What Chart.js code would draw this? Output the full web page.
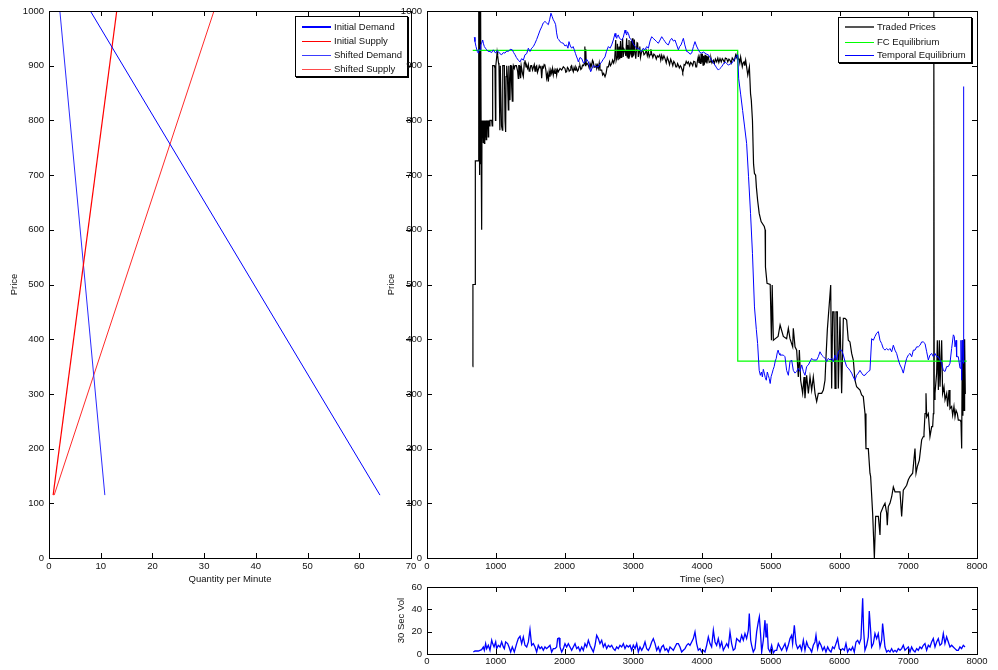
<!DOCTYPE html>
<html>
<head>
<meta charset="utf-8">
<title>Supply, demand and traded prices</title>
<script src="https://cdn.jsdelivr.net/npm/chart.js@4.4.1/dist/chart.umd.min.js"></script>
<style>
  html, body { margin: 0; padding: 0; background: #fff; }
  #wrap { position: relative; width: 998px; height: 670px; overflow: hidden; background: #fff; }
  canvas { position: absolute; }
  #cSD { left: 0; top: 0; z-index: 1; }
  #cPrice { left: 380px; top: 0; z-index: 3; }
  #cVol { left: 380px; top: 570px; z-index: 3; }
  .legend { position: absolute; background: #fff; border: 1px solid #000; box-shadow: 1px 1px 0 #000;
            font-family: 'Liberation Sans', Arial, Helvetica, sans-serif; font-size: 9.5px; color: #111; }
  #legSD { left: 295px; top: 16px; width: 111px; height: 59px; z-index: 2; }
  #legPrice { left: 838px; top: 17px; width: 132px; height: 44px; z-index: 4; }
  .legend .row { position: absolute; left: 0; right: 0; height: 12px; }
  .legend .swatch { position: absolute; left: 6px; width: 29px; height: 0; }
  .legend .label { position: absolute; left: 38px; top: 0; line-height: 12px; white-space: nowrap; }
</style>
</head>
<body>
<div id="wrap">
  <canvas id="cSD" width="420" height="600"></canvas>
  <div class="legend" id="legSD"></div>
  <canvas id="cPrice" width="618" height="600"></canvas>
  <canvas id="cVol" width="618" height="100"></canvas>
  <div class="legend" id="legPrice"></div>
</div>
<script>
// ---------- supply and demand schedules (quantity per minute, price) ----------
const initialDemandQty   = [8.0, 64.0];
const initialDemandPrice = [1000, 115];
const initialSupplyQty   = [0.8, 13.1];
const initialSupplyPrice = [115, 1000];
const shiftedDemandQty   = [2.1, 10.8];
const shiftedDemandPrice = [1000, 115];
const shiftedSupplyQty   = [1.0, 31.9];
const shiftedSupplyPrice = [115, 1000];

// ---------- tick values ----------
const quantityTicks = [0, 10, 20, 30, 40, 50, 60, 70];
const priceTicks    = [0, 100, 200, 300, 400, 500, 600, 700, 800, 900, 1000];
const timeTicks     = [0, 1000, 2000, 3000, 4000, 5000, 6000, 7000, 8000];
const volTicks      = [0, 20, 40, 60];

// ---------- legend labels ----------
const sdLegendLabels    = ['Initial Demand', 'Initial Supply', 'Shifted Demand', 'Shifted Supply'];
const priceLegendLabels = ['Traded Prices', 'FC Equilibrium', 'Temporal Equilibrium'];

// ---------- free-competition equilibrium: [time (sec), price] ----------
const fcEquilibrium = [[665, 928], [4520, 928], [4520, 360], [7850, 360]];

// ---------- traded prices: [time (sec), price] ----------
const tradedPrices = [
  [664,350],[668,500],[700,500],[703,726],[745,726],[750,1000],[755,740],[759,1000],[763,700],[767,1000],
  [771,760],[775,1000],[780,720],[785,1000],[790,700],[795,600],[800,800],[806,770],[812,800],[819,760],
  [826,800],[834,758],[840,800],[846,770],[853,800],[860,765],[868,800],[875,785],[882,800],[890,770],
  [897,800],[907,790],[916,800],[941,800],[948,790],[955,900],[965,900],[979,900],[989,895],[996,800],
  [1001,900],[1013,915],[1020,925],[1028,918],[1040,905],[1047,900],[1060,782],[1066,900],[1076,900],[1084,790],
  [1096,782],[1102,900],[1110,900],[1125,900],[1135,800],[1144,779],[1150,880],[1159,900],[1170,880],[1183,819],
  [1190,900],[1200,850],[1207,837],[1215,900],[1222,900],[1232,860],[1241,835],[1250,890],[1256,900],[1270,895],
  [1280,900],[1300,900],[1318,890],[1328,877],[1335,900],[1343,900],[1352,885],[1362,877],[1370,900],[1380,900],
  [1390,885],[1401,880],[1415,905],[1425,910],[1440,898],[1450,900],[1462,895],[1474,902],[1486,890],[1498,893],
  [1510,900],[1522,900],[1535,892],[1547,897],[1560,902],[1571,890],[1583,898],[1595,900],[1607,888],[1619,893],
  [1632,900],[1644,896],[1656,900],[1668,877],[1680,898],[1692,896],[1704,902],[1716,900],[1728,893],[1740,877],
  [1752,885],[1765,871],[1777,890],[1789,880],[1801,892],[1813,886],[1825,895],[1837,883],[1850,892],[1862,886],
  [1874,895],[1886,883],[1898,893],[1910,889],[1935,895],[1959,892],[1983,898],[2007,895],[2019,888],[2031,889],
  [2043,897],[2056,895],[2068,890],[2080,892],[2092,898],[2104,900],[2116,893],[2128,889],[2140,897],[2153,892],
  [2165,898],[2177,895],[2189,890],[2201,892],[2213,899],[2225,900],[2237,893],[2250,895],[2262,901],[2274,900],
  [2288,904],[2296,935],[2304,900],[2310,930],[2316,902],[2330,904],[2347,901],[2359,896],[2371,904],[2383,898],
  [2395,900],[2407,910],[2419,907],[2431,897],[2444,898],[2458,904],[2468,895],[2480,901],[2492,895],[2505,905],
  [2516,892],[2541,892],[2555,883],[2570,886],[2589,880],[2605,886],[2620,898],[2638,898],[2655,907],[2668,900],
  [2686,904],[2700,910],[2715,905],[2730,912],[2745,947],[2752,910],[2764,916],[2770,940],[2780,910],[2793,935],
  [2803,912],[2815,945],[2822,915],[2832,922],[2845,950],[2853,916],[2866,930],[2880,926],[2892,918],[2904,950],
  [2912,916],[2919,938],[2928,914],[2938,947],[2948,918],[2958,922],[2968,945],[2978,915],[2987,950],[2996,918],
  [3006,920],[3016,948],[3026,924],[3036,913],[3045,926],[3055,942],[3064,941],[3074,916],[3084,926],[3095,935],
  [3105,915],[3123,926],[3140,929],[3156,920],[3171,922],[3190,928],[3205,918],[3220,926],[3232,916],[3244,920],
  [3256,930],[3268,922],[3285,915],[3300,921],[3317,919],[3335,912],[3350,918],[3365,916],[3385,920],[3400,910],
  [3414,919],[3430,912],[3446,918],[3462,913],[3480,905],[3495,915],[3511,910],[3528,902],[3545,912],[3559,907],
  [3575,900],[3590,908],[3607,904],[3620,898],[3632,898],[3645,904],[3656,901],[3670,896],[3685,900],[3695,898],
  [3710,893],[3720,888],[3729,892],[3740,902],[3753,901],[3770,908],[3785,904],[3801,907],[3820,900],[3835,906],
  [3850,904],[3865,900],[3880,908],[3898,907],[3910,898],[3922,898],[3935,910],[3945,916],[3956,905],[3965,914],
  [3975,904],[3985,922],[3995,906],[4005,922],[4015,901],[4024,918],[4035,902],[4045,920],[4053,906],[4063,918],
  [4072,904],[4082,915],[4092,916],[4105,906],[4117,907],[4130,914],[4145,905],[4165,910],[4180,904],[4195,912],
  [4214,907],[4230,914],[4245,906],[4262,913],[4280,907],[4295,913],[4311,910],[4325,906],[4340,914],[4359,913],
  [4375,907],[4392,912],[4407,910],[4425,905],[4440,914],[4456,911],[4470,909],[4490,920],[4505,915],[4514,922],
  [4528,912],[4538,913],[4550,905],[4562,916],[4575,906],[4586,898],[4598,905],[4611,907],[4622,900],[4635,910],
  [4649,898],[4666,883],[4689,898],[4706,849],[4717,837],[4734,800],[4750,720],[4763,703],[4780,700],[4791,678],
  [4809,654],[4832,630],[4860,615],[4906,606],[4918,600],[4923,532],[4946,502],[4992,500],[5010,398],[5021,499],
  [5038,398],[5067,401],[5107,405],[5136,426],[5183,405],[5231,401],[5256,420],[5280,401],[5319,386],[5328,420],
  [5353,386],[5377,380],[5401,331],[5416,380],[5435,325],[5464,301],[5484,331],[5498,292],[5522,334],[5547,301],
  [5571,331],[5595,307],[5619,331],[5644,301],[5668,286],[5692,301],[5741,301],[5765,307],[5789,325],[5804,368],
  [5823,417],[5872,499],[5886,310],[5901,450],[5920,450],[5935,310],[5949,450],[5969,450],[5983,310],[6007,441],
  [6031,301],[6056,438],[6080,438],[6104,435],[6128,398],[6152,395],[6177,374],[6201,362],[6225,325],[6249,313],
  [6298,307],[6322,298],[6346,295],[6371,264],[6385,200],[6419,200],[6443,155],[6453,149],[6482,82],[6507,0],
  [6526,76],[6565,76],[6589,42],[6598,82],[6637,94],[6662,100],[6686,82],[6695,60],[6710,94],[6734,100],
  [6759,112],[6783,130],[6807,121],[6880,121],[6904,76],[6928,124],[6977,133],[7001,143],[7025,149],[7064,155],
  [7098,200],[7113,155],[7132,167],[7161,179],[7195,216],[7219,222],[7229,228],[7244,264],[7258,301],[7268,258],
  [7292,264],[7316,222],[7341,240],[7355,240],[7365,264],[7372,1000],[7378,290],[7389,301],[7413,338],[7423,398],
  [7438,307],[7452,398],[7462,313],[7486,398],[7500,301],[7520,313],[7535,289],[7559,301],[7573,277],[7593,307],
  [7607,273],[7631,277],[7646,261],[7665,277],[7680,258],[7695,270],[7714,264],[7728,252],[7753,252],[7767,249],
  [7777,200],[7786,398],[7795,260],[7801,398],[7811,270],[7820,400],[7830,300]
];

// ---------- temporal equilibrium: [time (sec), price] ----------
const temporalEquilibrium = [
  [688,952],[698,944],[713,935],[732,926],[747,923],[760,930],[771,929],[782,938],[795,941],[810,947],
  [822,940],[834,935],[850,932],[868,929],[890,926],[916,926],[940,924],[965,929],[985,925],[999,923],
  [1020,928],[1037,926],[1060,922],[1086,920],[1110,924],[1134,923],[1160,927],[1183,926],[1210,930],[1241,929],
  [1260,924],[1280,920],[1300,915],[1328,910],[1353,907],[1377,913],[1401,910],[1425,920],[1450,922],[1474,932],
  [1498,926],[1522,932],[1547,935],[1571,941],[1595,948],[1619,956],[1645,965],[1668,971],[1690,978],[1716,981],
  [1740,978],[1765,975],[1785,985],[1803,996],[1820,990],[1837,984],[1855,980],[1871,975],[1885,960],[1900,950],
  [1915,948],[1934,944],[1958,942],[1983,941],[2007,936],[2031,938],[2050,932],[2065,944],[2085,936],[2104,932],
  [2125,935],[2143,929],[2160,922],[2177,916],[2190,912],[2201,907],[2225,915],[2250,913],[2275,905],[2298,907],
  [2320,912],[2347,907],[2365,898],[2380,889],[2400,895],[2419,901],[2445,898],[2468,898],[2492,898],[2515,903],
  [2541,907],[2565,912],[2589,916],[2610,926],[2638,935],[2662,932],[2686,938],[2710,947],[2735,959],[2747,953],
  [2759,950],[2770,955],[2783,956],[2800,950],[2832,947],[2855,952],[2880,965],[2892,960],[2904,956],[2915,962],
  [2929,959],[2950,950],[2977,947],[3000,940],[3026,935],[3050,932],[3074,932],[3100,928],[3123,926],[3145,932],
  [3171,929],[3195,935],[3220,932],[3244,945],[3268,953],[3290,950],[3317,947],[3340,944],[3365,941],[3390,947],
  [3414,953],[3440,948],[3462,944],[3485,940],[3511,938],[3535,946],[3559,950],[3585,945],[3607,947],[3632,938],
  [3656,929],[3675,935],[3695,938],[3712,944],[3729,950],[3750,938],[3777,926],[3800,925],[3825,921],[3850,923],
  [3875,935],[3898,944],[3920,936],[3947,929],[3970,924],[3995,923],[4020,925],[4044,923],[4068,921],[4092,920],
  [4115,915],[4141,910],[4165,905],[4189,901],[4213,896],[4238,892],[4262,895],[4286,898],[4310,903],[4335,907],
  [4360,904],[4383,901],[4407,903],[4432,904],[4456,909],[4480,913],[4500,917],[4519,920],[4534,876],[4562,848],
  [4591,818],[4620,788],[4649,758],[4677,697],[4706,630],[4734,557],[4763,459],[4790,418],[4809,392],[4832,343],
  [4849,334],[4865,340],[4878,331],[4892,345],[4906,338],[4920,330],[4935,325],[4950,340],[4964,334],[4978,328],
  [4992,319],[5006,332],[5021,338],[5036,345],[5050,350],[5065,360],[5080,365],[5094,375],[5107,380],[5120,374],
  [5134,371],[5183,371],[5207,368],[5231,343],[5256,334],[5280,359],[5304,362],[5328,343],[5353,338],[5377,341],
  [5401,347],[5425,341],[5450,353],[5474,341],[5498,334],[5522,350],[5547,353],[5571,359],[5595,365],[5619,362],
  [5668,362],[5692,368],[5716,377],[5741,371],[5765,368],[5789,365],[5813,359],[5838,365],[5862,362],[5886,365],
  [5910,359],[5935,371],[5959,362],[5983,377],[6007,380],[6031,380],[6056,371],[6080,359],[6104,350],[6128,347],
  [6152,343],[6177,338],[6201,331],[6225,325],[6249,334],[6274,338],[6298,343],[6322,338],[6346,334],[6371,334],
  [6395,338],[6419,341],[6443,343],[6468,401],[6492,398],[6516,405],[6540,411],[6565,414],[6589,398],[6613,392],
  [6637,383],[6662,380],[6686,383],[6710,380],[6734,383],[6759,377],[6783,389],[6807,380],[6831,374],[6856,362],
  [6880,353],[6904,347],[6928,338],[6953,353],[6977,365],[7001,371],[7025,374],[7050,368],[7074,380],[7098,380],
  [7122,386],[7147,386],[7171,389],[7195,395],[7219,395],[7244,392],[7268,377],[7292,362],[7316,371],[7341,374],
  [7365,368],[7389,374],[7413,368],[7438,368],[7462,362],[7486,356],[7510,343],[7535,341],[7559,350],[7583,350],
  [7607,356],[7631,383],[7656,408],[7670,405],[7680,386],[7695,398],[7704,368],[7728,368],[7753,347],[7767,398],
  [7777,325],[7791,398],[7804,356],[7806,862]
];

// ---------- 30 second traded volume: [time (sec), volume] ----------
const volume30s = [
  [674,1.8],[698,2.7],[722,2.7],[747,2.7],[771,3.3],[795,3.9],[819,6.3],[834,3.3],[853,9.3],[868,4.8],
  [892,7.8],[916,3.3],[941,12.3],[955,9.3],[975,6.3],[999,10.8],[1013,4.8],[1037,7.8],[1062,6.3],[1086,10.8],
  [1110,6.3],[1125,4.8],[1144,10.8],[1173,9.3],[1193,6.3],[1217,1.8],[1241,6.3],[1270,1.8],[1304,9.3],[1328,13.8],
  [1353,15.9],[1377,9.3],[1401,15.3],[1425,7.8],[1450,6.3],[1474,10.8],[1498,21.9],[1522,7.8],[1547,9.3],[1571,6.3],
  [1595,1.8],[1619,7.8],[1644,4.8],[1668,6.3],[1692,3.3],[1716,6.3],[1740,4.8],[1765,6.3],[1789,7.8],[1813,1.8],
  [1837,4.8],[1862,4.8],[1886,6.3],[1900,13.8],[1920,14.4],[1934,6.3],[1959,1.8],[1983,4.8],[2007,9.3],[2031,6.3],
  [2056,9.3],[2080,6.3],[2104,3.3],[2128,6.3],[2153,9.3],[2177,4.8],[2201,6.3],[2225,2.7],[2250,6.3],[2274,3.3],
  [2298,9.3],[2322,6.3],[2347,12.3],[2371,7.8],[2395,4.8],[2419,1.8],[2444,7.8],[2468,16.8],[2492,13.8],[2516,9.3],
  [2541,12.3],[2565,6.3],[2589,9.3],[2613,4.8],[2638,7.8],[2662,6.3],[2686,7.8],[2710,4.8],[2735,3.3],[2759,6.3],
  [2783,4.8],[2807,7.8],[2832,6.3],[2856,9.3],[2880,4.8],[2904,7.8],[2929,6.3],[2953,7.8],[2977,3.3],[3001,7.8],
  [3026,4.8],[3050,9.3],[3074,1.8],[3098,6.3],[3123,3.3],[3147,6.3],[3171,10.8],[3195,4.8],[3220,3.3],[3244,6.3],
  [3268,10.8],[3292,13.8],[3317,9.3],[3341,3.3],[3365,6.3],[3389,1.8],[3414,6.3],[3438,7.8],[3462,3.3],[3486,4.8],
  [3510,1.8],[3535,6.3],[3559,4.8],[3583,3.3],[3607,6.3],[3632,9.3],[3656,9.3],[3680,6.3],[3704,1.8],[3728,3.3],
  [3753,4.8],[3777,7.8],[3801,9.3],[3825,7.8],[3850,10.8],[3874,13.8],[3898,19.8],[3922,9.3],[3946,3.3],[3971,4.8],
  [3995,1.8],[4019,3.3],[4043,1.8],[4068,7.8],[4092,15.3],[4116,9.3],[4140,6.3],[4165,21.3],[4189,10.8],[4213,7.8],
  [4237,13.8],[4262,6.3],[4286,10.8],[4310,3.3],[4334,6.3],[4359,9.3],[4383,6.3],[4407,19.8],[4431,9.3],[4455,3.3],
  [4480,4.8],[4504,13.8],[4528,12.3],[4552,10.8],[4577,16.8],[4601,12.3],[4625,18.3],[4649,13.8],[4674,21.3],[4688,36.3],
  [4708,12.3],[4722,7.8],[4746,1.8],[4771,4.8],[4795,19.8],[4819,28.8],[4834,33.3],[4853,16.8],[4868,1.8],[4892,12.3],
  [4916,30.3],[4931,15.3],[4945,27.3],[4964,4.8],[4989,1.8],[5013,7.8],[5037,0.9],[5062,3.3],[5086,3.3],[5110,9.3],
  [5134,6.3],[5158,3.3],[5183,6.3],[5207,9.3],[5231,3.3],[5255,7.8],[5280,13.8],[5304,16.8],[5318,9.3],[5343,25.8],
  [5367,9.3],[5391,4.8],[5425,7.8],[5449,3.3],[5474,12.3],[5498,3.3],[5522,10.8],[5546,6.3],[5571,4.8],[5595,1.8],
  [5619,7.8],[5643,10.8],[5658,16.8],[5682,4.8],[5706,10.8],[5731,7.8],[5755,3.3],[5779,6.3],[5803,1.8],[5828,6.3],
  [5852,3.3],[5876,1.8],[5900,6.3],[5924,4.8],[5949,9.3],[5973,13.8],[5997,4.8],[6021,3.3],[6046,4.8],[6070,3.3],
  [6094,9.3],[6118,1.8],[6143,4.8],[6167,3.3],[6191,6.3],[6215,1.8],[6240,10.8],[6264,12.3],[6288,9.3],[6312,13.8],
  [6337,50],[6351,21.3],[6370,3.3],[6395,7.8],[6419,15.3],[6433,38.5],[6453,21.3],[6467,6.3],[6492,9.3],[6516,18.3],
  [6540,13.8],[6564,18.3],[6589,6.3],[6613,12.3],[6627,27.3],[6647,15.3],[6661,6.3],[6686,1.8],[6710,3.3],[6734,1.8],
  [6758,4.8],[6782,1.8],[6807,3.3],[6831,1.8],[6855,4.8],[6880,3.3],[6904,4.8],[6928,7.8],[6952,3.3],[6976,4.8],
  [7001,6.3],[7025,1.8],[7049,6.3],[7073,3.3],[7098,1.8],[7122,4.8],[7146,3.3],[7170,6.3],[7195,4.8],[7219,7.8],
  [7243,9.3],[7267,3.3],[7292,7.8],[7316,6.3],[7340,10.8],[7364,13.8],[7389,6.3],[7413,10.8],[7437,13.8],[7461,7.8],
  [7486,9.3],[7510,18.3],[7534,9.3],[7558,15.3],[7583,10.8],[7607,6.3],[7631,7.8],[7655,6.3],[7679,4.8],[7704,3.3],
  [7728,3.3],[7752,6.3],[7776,4.8],[7801,7.8],[7825,6.3]
];

// ---------- helpers ----------
const FONT = "'Liberation Sans', Arial, Helvetica, sans-serif";
Chart.defaults.font.family = FONT;
Chart.defaults.font.size = 9.5;
Chart.defaults.color = '#111';

const BLUE = '#0000ff', RED = '#ff0000', GREEN = '#00ff00', BLACK = '#000000';

function zipPoints(xs, ys) { return xs.map((x, i) => ({ x: x, y: ys[i] })); }
function pairPoints(rows) { return rows.map(r => ({ x: r[0], y: r[1] })); }
function fixedTicks(values) { return scale => { scale.ticks = values.map(v => ({ value: v })); }; }
const plainLabel = v => String(v);

// Box around the plot area with short inward tick marks on all four sides
const boxedAxes = {
  id: 'boxedAxes',
  afterDatasetsDraw(chart, args, opts) {
    const { ctx, chartArea: a, scales } = chart;
    const len = opts.tickLength || 5;
    const snap = v => Math.round(v) + 0.5;
    ctx.save();
    ctx.strokeStyle = '#000';
    ctx.lineWidth = 1;
    ctx.beginPath();
    scales.x.ticks.forEach(t => {
      const px = snap(scales.x.getPixelForValue(t.value));
      ctx.moveTo(px, a.bottom); ctx.lineTo(px, a.bottom - len);
      ctx.moveTo(px, a.top);    ctx.lineTo(px, a.top + len);
    });
    scales.y.ticks.forEach(t => {
      const py = snap(scales.y.getPixelForValue(t.value));
      ctx.moveTo(a.left, py);  ctx.lineTo(a.left + len, py);
      ctx.moveTo(a.right, py); ctx.lineTo(a.right - len, py);
    });
    ctx.stroke();
    ctx.strokeRect(snap(a.left), snap(a.top), Math.round(a.right - a.left), Math.round(a.bottom - a.top));
    ctx.restore();
  }
};

function lineSet(label, points, color, width, order) {
  return {
    label: label, data: points, borderColor: color, backgroundColor: color,
    borderWidth: width, pointRadius: 0, tension: 0, fill: false, order: order || 0
  };
}

function xAxis(min, max, ticks, titleText, height, tickPad, titlePadBottom) {
  return {
    type: 'linear', min: min, max: max,
    afterBuildTicks: fixedTicks(ticks),
    grid: { display: false, drawTicks: false },
    border: { display: false },
    ticks: { padding: tickPad, maxRotation: 0, autoSkip: false, callback: plainLabel, color: '#111' },
    title: { display: !!titleText, text: titleText || '', color: '#111',
             padding: { top: 0, bottom: titlePadBottom } },
    afterFit: s => { s.height = height; }
  };
}

function yAxis(min, max, ticks, titleText, width, tickPad, titlePadTop) {
  return {
    type: 'linear', min: min, max: max,
    afterBuildTicks: fixedTicks(ticks),
    grid: { display: false, drawTicks: false },
    border: { display: false },
    ticks: { padding: tickPad, autoSkip: false, callback: plainLabel, color: '#111' },
    title: { display: true, text: titleText, color: '#111',
             padding: { top: titlePadTop, bottom: 0 } },
    afterFit: s => { s.width = width; }
  };
}

function baseOptions(padding, xs, ys) {
  return {
    responsive: false, animation: false, devicePixelRatio: 1,
    layout: { padding: padding },
    plugins: { legend: { display: false }, tooltip: { enabled: false }, boxedAxes: { tickLength: 5 } },
    scales: { x: xs, y: ys }
  };
}

// ---------- left: supply and demand ----------
new Chart(document.getElementById('cSD'), {
  type: 'line',
  data: {
    datasets: [
      lineSet(sdLegendLabels[0], zipPoints(initialDemandQty, initialDemandPrice), BLUE, 1),
      lineSet(sdLegendLabels[1], zipPoints(initialSupplyQty, initialSupplyPrice), RED, 1.2),
      lineSet(sdLegendLabels[2], zipPoints(shiftedDemandQty, shiftedDemandPrice), '#2a2aff', 1),
      lineSet(sdLegendLabels[3], zipPoints(shiftedSupplyQty, shiftedSupplyPrice), '#ff2a2a', 1)
    ]
  },
  options: baseOptions({ left: 0, top: 11, right: 9, bottom: 0 },
    xAxis(0, 70, quantityTicks, 'Quantity per Minute', 42, 3, 15),
    yAxis(0, 1000, priceTicks, 'Price', 49, 5, 9)),
  plugins: [boxedAxes]
});

// ---------- right: traded prices and equilibria ----------
new Chart(document.getElementById('cPrice'), {
  type: 'line',
  data: {
    datasets: [
      lineSet(priceLegendLabels[0], pairPoints(tradedPrices), BLACK, 1.2, 3),
      lineSet(priceLegendLabels[1], pairPoints(fcEquilibrium), GREEN, 1.2, 2),
      lineSet(priceLegendLabels[2], pairPoints(temporalEquilibrium), BLUE, 1, 1)
    ]
  },
  options: baseOptions({ left: 0, top: 11, right: 21, bottom: 0 },
    xAxis(0, 8000, timeTicks, 'Time (sec)', 42, 3, 15),
    yAxis(0, 1000, priceTicks, 'Price', 47, 5, 6)),
  plugins: [boxedAxes]
});

// ---------- bottom right: 30 second volume ----------
new Chart(document.getElementById('cVol'), {
  type: 'line',
  data: { datasets: [ lineSet('30 Sec Vol', pairPoints(volume30s), BLUE, 1.3) ] },
  options: baseOptions({ left: 0, top: 17, right: 21, bottom: 0 },
    xAxis(0, 8000, timeTicks, '', 16, 2, 0),
    yAxis(0, 60, volTicks, '30 Sec Vol', 47, 5, 16)),
  plugins: [boxedAxes]
});

// ---------- legends ----------
function buildLegend(el, labels, styles, rowTops) {
  labels.forEach((text, i) => {
    const row = document.createElement('div');
    row.className = 'row';
    row.style.top = rowTops[i] + 'px';
    const sw = document.createElement('div');
    sw.className = 'swatch';
    sw.style.borderTop = styles[i];
    sw.style.top = (6 - Math.floor(parseFloat(styles[i]) / 2)) + 'px';
    const lb = document.createElement('div');
    lb.className = 'label';
    lb.textContent = text;
    row.appendChild(sw);
    row.appendChild(lb);
    el.appendChild(row);
  });
}
buildLegend(document.getElementById('legSD'), sdLegendLabels,
  ['2px solid ' + BLUE, '1.5px solid ' + RED, '1px solid #3b3bff', '1px solid #ff4a4a'],
  [3.5, 18, 31.5, 45.5]);
buildLegend(document.getElementById('legPrice'), priceLegendLabels,
  ['2px solid #555', '1px solid ' + GREEN, '1px solid ' + BLUE],
  [2.5, 17.5, 30.5]);
</script>
</body>
</html>
